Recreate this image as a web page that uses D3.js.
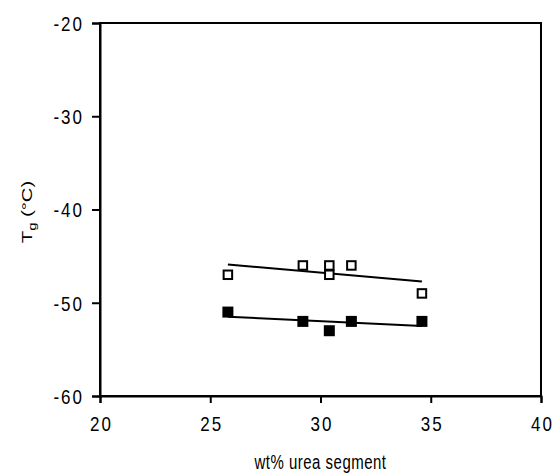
<!DOCTYPE html>
<html>
<head>
<meta charset="utf-8">
<script src="https://cdn.jsdelivr.net/npm/d3@7"></script>
<style>
  body { margin: 0; background: #fff; }
  svg text { font-family: "Liberation Sans", Arial, sans-serif; fill: #000; }
</style>
</head>
<body>
<div id="chart"></div>
<script>
// Tg of the soft phase vs urea content
const openX = [25.8, 29.2, 30.4, 30.4, 31.4, 34.6];
const openY = [-47, -46, -46, -47, -46, -49];
const filledX = [25.8, 29.2, 30.4, 31.4, 34.6];
const filledY = [-51, -52, -53, -52, -52];
const xTicks = [20, 25, 30, 35, 40];
const yTicks = [-20, -30, -40, -50, -60];

const width = 553, height = 475;
const margin = { top: 23, right: 12, bottom: 79, left: 100 };

const svg = d3.select('#chart')
    .append('svg')
    .attr('width', width)
    .attr('height', height);

const x = d3.scaleLinear().domain([20, 40]).range([margin.left, width - margin.right]);
const y = d3.scaleLinear().domain([-60, -20]).range([height - margin.bottom, margin.top]);

// frame
svg.append('rect')
    .attr('x', x(20)).attr('y', y(-20))
    .attr('width', x(40) - x(20)).attr('height', y(-60) - y(-20))
    .attr('fill', 'none').attr('stroke', '#000').attr('stroke-width', 2);

// axes
const xAxis = svg.append('g')
    .attr('transform', `translate(0,${y(-60)})`)
    .call(d3.axisBottom(x).tickValues(xTicks).tickSize(7));
const yAxis = svg.append('g')
    .attr('transform', `translate(${x(20)},0)`)
    .call(d3.axisLeft(y).tickValues(yTicks).tickSize(8)
        .tickFormat(d => String(d)));
[xAxis, yAxis].forEach(g => {
    g.select('.domain').attr('stroke-width', 2);
    g.selectAll('.tick line').attr('stroke-width', 2);
    g.selectAll('.tick text')
        .attr('fill', '#000')
        .style('font-size', '17px')
        .style('font-family', '"Liberation Sans", Arial, sans-serif')
        .style('letter-spacing', '2px');
});
xAxis.selectAll('.tick text')
    .attr('y', 0).attr('dy', 0)
    .attr('transform', 'translate(1,35) scale(1,1.2)');
yAxis.selectAll('.tick text')
    .attr('x', -16).attr('dy', '0.36em')
    .attr('transform', 'scale(1,1.2)');

// least-squares trend lines
function fit(xs, ys) {
    const mx = d3.mean(xs), my = d3.mean(ys);
    const sxy = d3.sum(xs, (v, i) => (v - mx) * (ys[i] - my));
    const sxx = d3.sum(xs, v => (v - mx) * (v - mx));
    const b = sxy / sxx;
    const x0 = d3.min(xs), x1 = d3.max(xs);
    return [[x0, my + b * (x0 - mx)], [x1, my + b * (x1 - mx)]];
}
const line = d3.line().x(d => x(d[0])).y(d => y(d[1]));
[[openX, openY], [filledX, filledY]].forEach(([xs, ys]) => {
    svg.append('path')
        .datum(fit(xs, ys))
        .attr('d', line)
        .attr('fill', 'none')
        .attr('stroke', '#000')
        .attr('stroke-width', 2);
});

// markers
const s = 8.5;
svg.selectAll('.open')
    .data(openX.map((v, i) => [v, openY[i]]))
    .enter().append('rect')
    .attr('x', d => x(d[0]) - s / 2)
    .attr('y', d => y(d[1]) - s / 2)
    .attr('width', s).attr('height', s)
    .attr('fill', '#fff').attr('stroke', '#000').attr('stroke-width', 2);
const f = 11;
svg.selectAll('.filled')
    .data(filledX.map((v, i) => [v, filledY[i]]))
    .enter().append('rect')
    .attr('x', d => x(d[0]) - f / 2)
    .attr('y', d => y(d[1]) - f / 2)
    .attr('width', f).attr('height', f)
    .attr('fill', '#000');

// axis titles
svg.append('text')
    .attr('transform', `translate(${(x(20) + x(40)) / 2},469) scale(1,1.3)`)
    .attr('text-anchor', 'middle')
    .attr('fill', '#000')
    .style('font-size', '15px')
    .style('letter-spacing', '0.5px')
    .text('wt% urea segment');

const yl = svg.append('text')
    .attr('transform', 'translate(32,212) scale(1,1.35) rotate(-90)')
    .attr('text-anchor', 'middle')
    .attr('fill', '#000')
    .style('font-size', '15px');
yl.append('tspan').text('T');
yl.append('tspan').attr('dy', 4).style('font-size', '11px').text('g');
yl.append('tspan').attr('dy', -4).text(' (°C)');
</script>
</body>
</html>
